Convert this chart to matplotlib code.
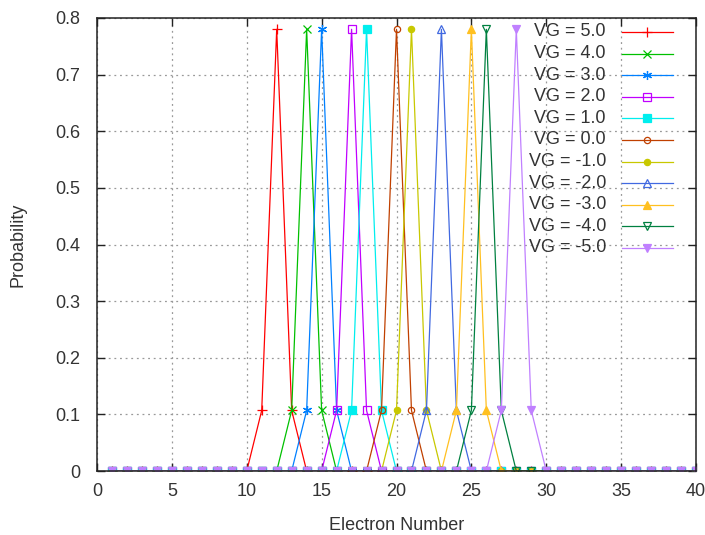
import numpy as np
import matplotlib
matplotlib.use("Agg")
import matplotlib.pyplot as plt

plt.rcParams['font.family'] = ['Liberation Sans', 'DejaVu Sans']

# Electron number grid and probability distribution for each gate voltage
electrons = np.arange(1, 41)
vg_labels = ['VG = 5.0', 'VG = 4.0', 'VG = 3.0', 'VG = 2.0', 'VG = 1.0', 'VG = 0.0',
             'VG = -1.0', 'VG = -2.0', 'VG = -3.0', 'VG = -4.0', 'VG = -5.0']
peak_n = [12, 14, 15, 17, 18, 20, 21, 23, 25, 26, 28]
p_peak = 0.78
p_side = 0.107

colors = ['#ff0000', '#00c000', '#0080ff', '#c000ff', '#00eeee', '#c04000',
          '#c8c800', '#4169e1', '#ffc020', '#008040', '#c080ff']
# gnuplot point types 1..11
markers = [dict(marker='+'), dict(marker='x'), dict(marker=(6, 2, 0)),
           dict(marker='s', mfc='none'), dict(marker='s'), dict(marker='o', mfc='none'),
           dict(marker='o'), dict(marker='^', mfc='none'), dict(marker='^'),
           dict(marker='v', mfc='none'), dict(marker='v')]
msizes = [7.5, 5.5, 6.5, 5.5, 5.5, 4.5, 4.5, 6, 6, 6, 6]

text_col = '#333333'


def distribution(peak):
    prob = np.zeros(len(electrons))
    prob[electrons == peak] = p_peak
    prob[electrons == peak - 1] = p_side
    prob[electrons == peak + 1] = p_side
    return prob


fig = plt.figure(figsize=(7.05, 5.35), dpi=100)
ax = fig.add_axes([97 / 705, 64 / 535, 599 / 705, 453 / 535])

for label, peak, c, mk, ms in zip(vg_labels, peak_n, colors, markers, msizes):
    ax.plot(electrons, distribution(peak), color=c, lw=0.9, ms=ms, mew=0.9,
            mec=c, **({'mfc': c} | mk))

ax.set_xlim(0, 40)
ax.set_ylim(0, 0.8)
ax.set_xticks(np.arange(0, 41, 5))
ax.set_yticks(np.arange(0, 0.81, 0.1))
ax.set_yticklabels(['0', '0.1', '0.2', '0.3', '0.4', '0.5', '0.6', '0.7', '0.8'])
ax.tick_params(direction='in', length=6, width=1, top=True, right=True,
               labelsize=13, colors='#222222', labelcolor=text_col)
ax.tick_params(axis='y', pad=12)
ax.tick_params(axis='x', pad=9)
ax.grid(True, color='#999999', linestyle=(0, (1.5, 3)), linewidth=0.9)
ax.set_axisbelow(True)
for s in ax.spines.values():
    s.set_linewidth(1.1)
    s.set_color('#222222')

ax.set_xlabel('Electron Number', fontsize=13, color=text_col, labelpad=12)
ax.set_ylabel('Probability', fontsize=13, color=text_col, labelpad=21)

# gnuplot-style key: right-aligned text followed by a line sample
def px_x(x):
    return (x - 97) / 599


def px_y(y):
    return (471 - y) / 453


for i, (label, c, mk, ms) in enumerate(zip(vg_labels, colors, markers, msizes)):
    yk = px_y(32 + i * 21.6)
    ax.text(px_x(606), yk, label, transform=ax.transAxes, ha='right', va='center',
            fontsize=13, color=text_col)
    ax.plot([px_x(622), px_x(673)], [yk, yk], transform=ax.transAxes, color=c,
            lw=0.9, clip_on=False)
    ax.plot([px_x(647)], [yk], transform=ax.transAxes, color=c, ms=ms, mew=0.9,
            mec=c, clip_on=False, **({'mfc': c} | mk))

fig.savefig('out.png', dpi=100)
